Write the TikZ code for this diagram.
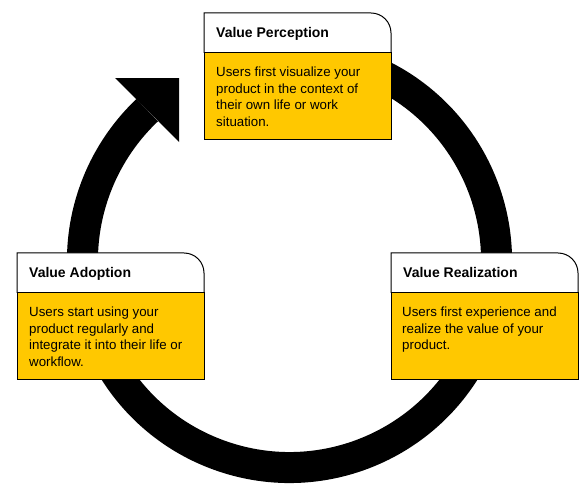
\documentclass[tikz,border=0pt]{standalone}
\usepackage{fontspec}
\setmainfont{Liberation Sans}
\definecolor{boxyellow}{RGB}{255,200,0}
\tikzset{
  ring/.style={line width=31pt, black},
  hdr/.style={draw=black, line width=1pt, fill=white},
  bodybox/.style={draw=black, line width=1pt, fill=boxyellow},
  ttl/.style={anchor=base west, inner sep=0pt, font=\fontsize{14}{16}\selectfont\bfseries},
  txt/.style={anchor=north west, inner sep=0pt, align=left, font=\fontsize{13.3}{16.5}\selectfont},
}
\newcommand{\cardbox}[4]{% x0 y0 name title
  \fill[white] (#1,#2) -- ++(167,0) arc[start angle=-90,end angle=0,radius=20] -- ++(0,20) -- ++(-187,0) -- cycle;
  \draw[line width=1pt] (#1,#2+40) -- (#1,#2) -- ++(167,0) arc[start angle=-90,end angle=0,radius=20] -- ++(0,20);
  \draw[bodybox] (#1,#2+40) rectangle ++(187,87);
  \node[ttl] (#3t) at (#1+12,#2+25) {#4};
}
\begin{document}
\begin{tikzpicture}[x=1pt,y=-1pt]
\useasboundingbox (0,0) rectangle (587,502);
% ring
\coordinate (c) at (289.5,260.5);
\draw[ring] (c) ++(-70:207) arc[start angle=-70,end angle=226.57,radius=207] coordinate (aend);
\fill[black] (aend) ++(-32,-32) coordinate (h1) -- ++(64,0) coordinate (tip) -- ++(0,64) coordinate (h2) -- cycle;
% boxes
\cardbox{204}{13}{vp}{Value Perception}
\node[txt] (vpb) at (216,67) {Users first visualize your\\product in the context of\\their own life or work\\situation.};
\cardbox{391}{253}{vr}{Value Realization}
\node[txt] (vrb) at (402,307) {Users first experience and\\realize the value of your\\product.};
\cardbox{17}{253}{va}{Value Adoption}
\node[txt] (vab) at (29,307) {Users start using your\\product regularly and\\integrate it into their life or\\workflow.};
\end{tikzpicture}
\end{document}
